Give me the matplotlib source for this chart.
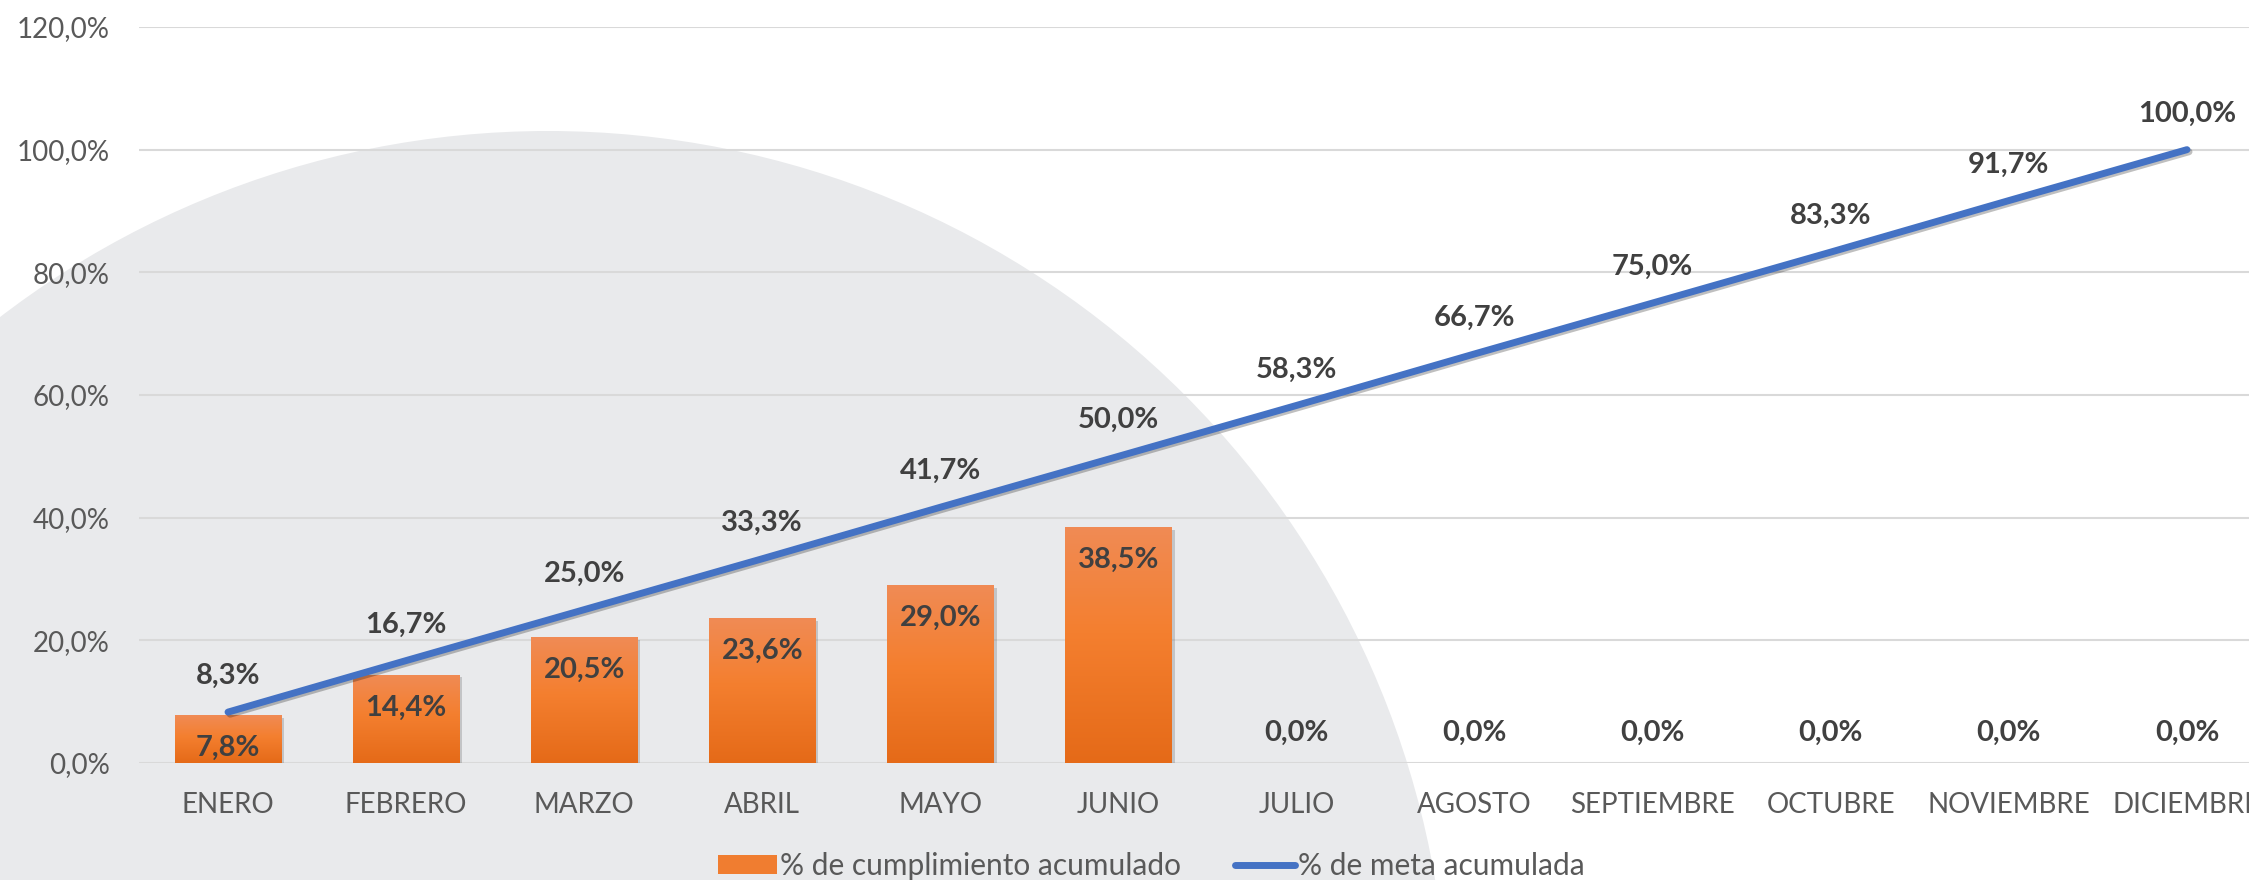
import matplotlib
matplotlib.use("Agg")
import matplotlib.pyplot as plt
import numpy as np
from matplotlib.patches import Ellipse, Patch
from matplotlib.lines import Line2D
from matplotlib.colors import LinearSegmentedColormap
import matplotlib.patheffects as pe

plt.rcParams['font.family'] = ['Lato', 'DejaVu Sans']

meses = ["ENERO", "FEBRERO", "MARZO", "ABRIL", "MAYO", "JUNIO", "JULIO",
         "AGOSTO", "SEPTIEMBRE", "OCTUBRE", "NOVIEMBRE", "DICIEMBRE"]
cumplimiento = [7.8, 14.4, 20.5, 23.6, 29.0, 38.5, 0.0, 0.0, 0.0, 0.0, 0.0, 0.0]
meta = [8.3, 16.7, 25.0, 33.3, 41.7, 50.0, 58.3, 66.7, 75.0, 83.3, 91.7, 100.0]
yticks = [0, 20, 40, 60, 80, 100, 120]


def fmt(v):
    return ("%.1f%%" % v).replace(".", ",")


W, H = 2249, 880
fig = plt.figure(figsize=(W / 100, H / 100), dpi=100)
fig.patch.set_facecolor("white")

# big decorative grey circle behind the chart
cx, cy, r = 548, 880 - 1031, 900
fig.patches.append(Ellipse((cx / W, cy / H), 2 * r / W, 2 * r / H,
                           transform=fig.transFigure, facecolor="#E9EAEC",
                           edgecolor="none", zorder=-5))

ax = fig.add_axes([139 / W, 117 / H, 2137 / W, 736 / H])
ax.set_zorder(1)
ax.patch.set_alpha(0)

x = np.arange(len(meses))
bars = ax.bar(x, cumplimiento, width=0.6, color="#F07D30", zorder=2,
              path_effects=[pe.SimplePatchShadow(offset=(2, -2), alpha=0.25,
                                                 shadow_rgbFace="#555555"),
                            pe.Normal()])

cmap = LinearSegmentedColormap.from_list(
    "naranja", [(0.0, "#E56A18"), (0.55, "#F47F2F"), (1.0, "#F08B55")])
grad = np.linspace(0, 1, 256).reshape(-1, 1)
for b in bars:
    h = b.get_height()
    if h <= 0:
        continue
    x0 = b.get_x()
    im = ax.imshow(grad, cmap=cmap, origin="lower", aspect="auto",
                   extent=[x0, x0 + b.get_width(), 0, h], zorder=2.1)
    im.set_clip_path(b)

ax.plot(x, meta, color="#4472C4", lw=5, solid_capstyle="round", zorder=3,
        path_effects=[pe.SimpleLineShadow(offset=(1.5, -1.5), alpha=0.25),
                      pe.Normal()])

lab_kw = dict(ha="center", va="center", fontsize=21, fontweight="bold",
              color="#404040", textcoords="offset pixels", zorder=4)
for i, v in enumerate(meta):
    ax.annotate(fmt(v), (x[i], v), xytext=(0, 36), **lab_kw)
for i, v in enumerate(cumplimiento):
    off = -33 if v > 0 else 30
    ax.annotate(fmt(v), (x[i], v), xytext=(0, off), **lab_kw)

ax.set_xlim(-0.5, len(meses) - 0.5)
ax.set_ylim(0, 120)
ax.set_yticks(yticks)
ax.set_yticklabels([fmt(t) for t in yticks])
ax.set_xticks(x)
ax.set_xticklabels(meses)
ax.tick_params(axis="both", length=0, labelsize=20, labelcolor="#595959")
ax.tick_params(axis="y", pad=21)
ax.tick_params(axis="x", pad=21)
ax.grid(axis="y", color="#D9D9D9", lw=1.5)
ax.set_axisbelow(True)
for s in ax.spines.values():
    s.set_visible(False)

handles = [Patch(facecolor="#F07D30", edgecolor="none"),
           Line2D([], [], color="#4472C4", lw=5, solid_capstyle="round")]
fig.legend(handles, ["% de cumplimiento acumulado", "% de meta acumulada"],
           loc="center", bbox_to_anchor=(1151 / W, 14 / H), ncol=2,
           frameon=False, fontsize=21.5, labelcolor="#595959",
           handlelength=2.0, handleheight=0.6, handletextpad=0.1,
           columnspacing=1.8)

fig.savefig("out.png", dpi=100)
